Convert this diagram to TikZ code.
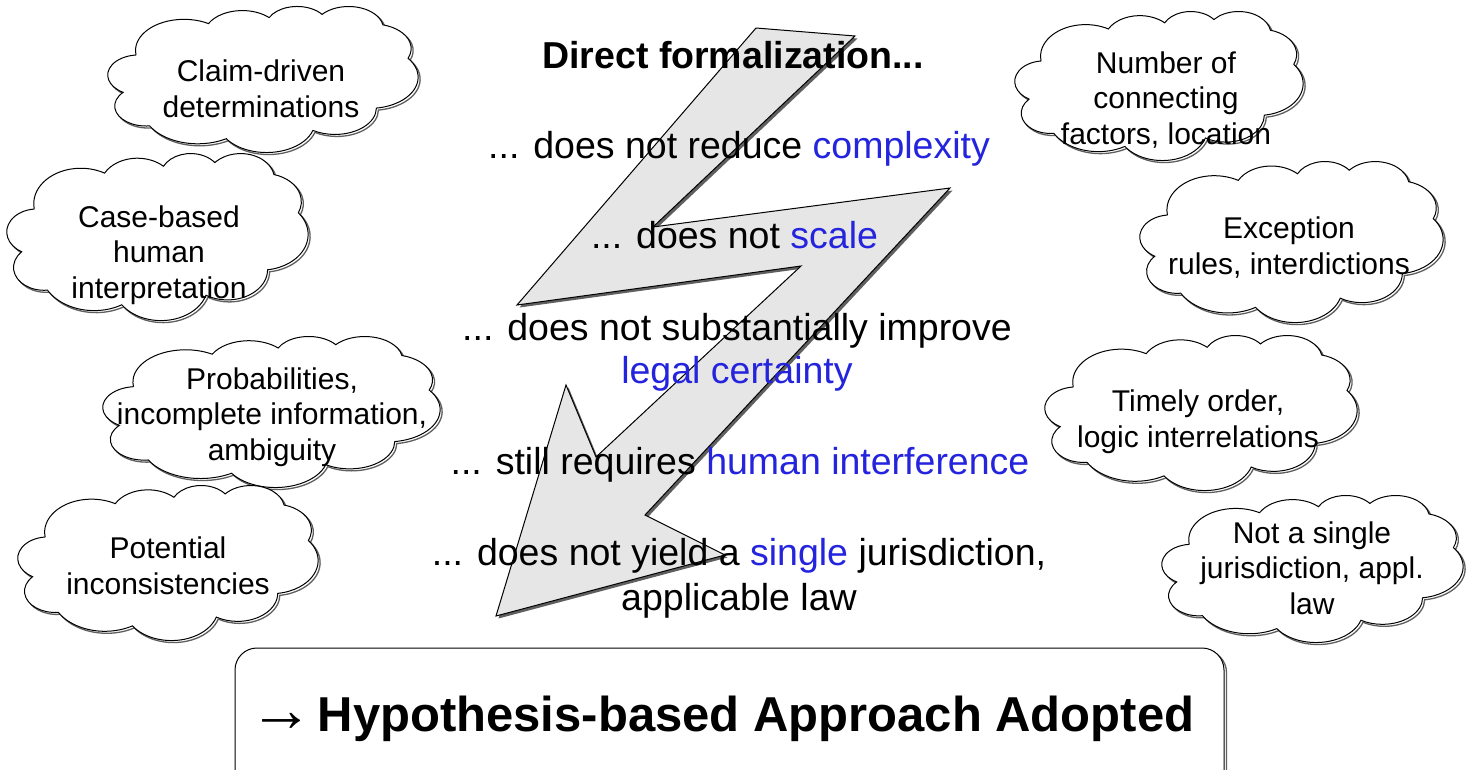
\documentclass[tikz,border=0pt]{standalone}
\usepackage{fontspec}
\setmainfont{Liberation Sans}
\definecolor{hl}{RGB}{36,36,222}
\definecolor{boltfill}{RGB}{230,230,230}
\definecolor{shadecol}{RGB}{95,95,95}
\newcommand\cloudarcdef[5]{%
  \pgfmathsetmacro\tmpst{#4}%
  \pgfmathsetmacro\tmpen{#4+#5}%
  \pgfmathsetmacro\tmpts{atan2(#2*sin(\tmpst),#3*cos(\tmpst))}%
  \pgfmathsetmacro\tmpte{atan2(#2*sin(\tmpen),#3*cos(\tmpen))}%
  \pgfmathsetmacro\tmpd{mod(\tmpte-\tmpts+720,360)}%
  \expandafter\xdef\csname cldS#1\endcsname{\tmpts}%
  \expandafter\xdef\csname cldD#1\endcsname{\tmpd}%
}
\cloudarcdef{a}{6.753}{9.190}{-190.48748}{123.78053}
\cloudarcdef{b}{5.333}{7.267}{-144.10238}{89.94523}
\cloudarcdef{c}{4.365}{5.945}{-145.80792}{99.72302}
\cloudarcdef{d}{4.857}{6.595}{-130.98607}{117.24173}
\cloudarcdef{e}{5.333}{7.273}{-78.70888}{109.02692}
\cloudarcdef{f}{6.775}{9.220}{-46.26725}{130.26900}
\cloudarcdef{g}{5.785}{7.867}{0.62502}{114.03333}
\cloudarcdef{h}{6.752}{9.215}{22.45160}{115.17255}
\cloudarcdef{i}{7.720}{10.543}{66.24263}{75.71102}
\cloudarcdef{j}{4.360}{5.918}{-274.94208}{146.73557}
\cloudarcdef{k}{4.345}{5.945}{-246.82850}{152.51885}
\newcommand\cloudoutline{(3.9,14.37)
 arc[start angle=\cldSa, delta angle=\cldDa, x radius=6.753, y radius=9.19]
 arc[start angle=\cldSb, delta angle=\cldDb, x radius=5.333, y radius=7.267]
 arc[start angle=\cldSc, delta angle=\cldDc, x radius=4.365, y radius=5.945]
 arc[start angle=\cldSd, delta angle=\cldDd, x radius=4.857, y radius=6.595]
 arc[start angle=\cldSe, delta angle=\cldDe, x radius=5.333, y radius=7.273]
 arc[start angle=\cldSf, delta angle=\cldDf, x radius=6.775, y radius=9.22]
 arc[start angle=\cldSg, delta angle=\cldDg, x radius=5.785, y radius=7.867]
 arc[start angle=\cldSh, delta angle=\cldDh, x radius=6.752, y radius=9.215]
 arc[start angle=\cldSi, delta angle=\cldDi, x radius=7.72, y radius=10.543]
 arc[start angle=\cldSj, delta angle=\cldDj, x radius=4.36, y radius=5.918]
 arc[start angle=\cldSk, delta angle=\cldDk, x radius=4.345, y radius=5.945]
 -- cycle}
\newcommand\drawcloud[4]{%
  \pgfmathsetmacro\cldw{(#3)/43.2}\pgfmathsetmacro\cldh{(#4)/43.2}%
  \begin{scope}[shift={(#1,#2)}, x=\cldw pt, y=-\cldh pt]
    \draw[shadecol, line width=1.3pt, xshift=2pt, yshift=-2pt] \cloudoutline;
    \filldraw[fill=white, draw=black, line width=1pt] \cloudoutline;
  \end{scope}}
\begin{document}
\begin{tikzpicture}[x=1pt, y=-1pt,
  maintxt/.style={font=\fontsize{37.5}{43}\selectfont, align=center, inner sep=0pt},
  cloudtxt/.style={font=\fontsize{30}{35.5}\selectfont, align=center, inner sep=0pt},
  bolt/.style={fill=boltfill, draw=black, line width=1pt, line join=miter}]
\useasboundingbox (0,0) rectangle (1473,769);
\clip (0,0) rectangle (1473,769);
\fill[white] (0,0) rectangle (1473,769);

% clouds
\drawcloud{108}{6}{310}{146}
\drawcloud{7}{153}{301}{167}
\drawcloud{103}{336}{337}{151}
\drawcloud{18}{485}{300}{155}
\drawcloud{1015}{11}{288}{149}
\drawcloud{1140}{161}{303}{161}
\drawcloud{1045}{335}{312}{155}
\drawcloud{1162}{495}{301}{147}

% cloud texts (base = baseline of last line)
\node[cloudtxt, anchor=base] (c1) at (261,117) {Claim-driven\\determinations};
\node[cloudtxt, anchor=base] (c2) at (159,298) {Case-based\\human\\interpretation};
\node[cloudtxt, anchor=base] (c3) at (272,460) {Probabilities,\\incomplete information,\\ambiguity};
\node[cloudtxt, anchor=base] (c4) at (168,594) {Potential\\inconsistencies};
\node[cloudtxt, anchor=base] (c5) at (1166,144) {Number of\\connecting\\factors, location};
\node[cloudtxt, anchor=base] (c6) at (1289,274) {Exception\\rules, interdictions};
\node[cloudtxt, anchor=base] (c7) at (1198,447) {Timely order,\\logic interrelations};
\node[cloudtxt, anchor=base] (c8) at (1312,614) {Not a single\\jurisdiction, appl.\\law};

% lightning bolt
\fill[shadecol, xshift=2.5pt, yshift=-2.5pt] (756,28) -- (855,36) -- (653,227) -- (950,188) -- (645,515) -- (725,555) -- (496,616) -- (566,385) -- (596,457) -- (801,266) -- (517,305) -- cycle;
\path[bolt] (756,28) -- (855,36) -- (653,227) -- (950,188) -- (645,515) -- (725,555) -- (496,616) -- (566,385) -- (596,457) -- (801,266) -- (517,305) -- cycle;

% main text
\node[maintxt, anchor=base, font=\fontsize{37.5}{43}\selectfont\bfseries] (t0) at (733,68.5) {Direct formalization...};
\node[maintxt, anchor=base] (t1) at (739,158.5) {... does not reduce \textcolor{hl}{complexity}};
\node[maintxt, anchor=base] (t2) at (734.5,248.5) {... does not \textcolor{hl}{scale}};
\node[maintxt, anchor=base] (t3) at (737,383.5) {... does not substantially improve\\\textcolor{hl}{legal certainty}};
\node[maintxt, anchor=base] (t4) at (740,474.5) {... still requires \textcolor{hl}{human interference}};
\node[maintxt, anchor=base, font=\fontsize{37.5}{45}\selectfont] (t5) at (739,610.5) {... does not yield a \textcolor{hl}{single} jurisdiction,\\applicable law};

% conclusion box
\draw[shadecol, line width=1.3pt, rounded corners=22pt, xshift=2.5pt, yshift=-2.5pt] (235,648) rectangle (1224,800);
\draw[fill=white, line width=1pt, rounded corners=22pt] (235,648) rectangle (1224,800);
\node[anchor=base, inner sep=0pt, font=\fontsize{49}{56}\selectfont\bfseries] (concl) at (722,731) {{\mdseries\fontsize{64}{64}\selectfont →}\hspace{4pt}Hypothesis-based Approach Adopted};
\end{tikzpicture}
\end{document}
